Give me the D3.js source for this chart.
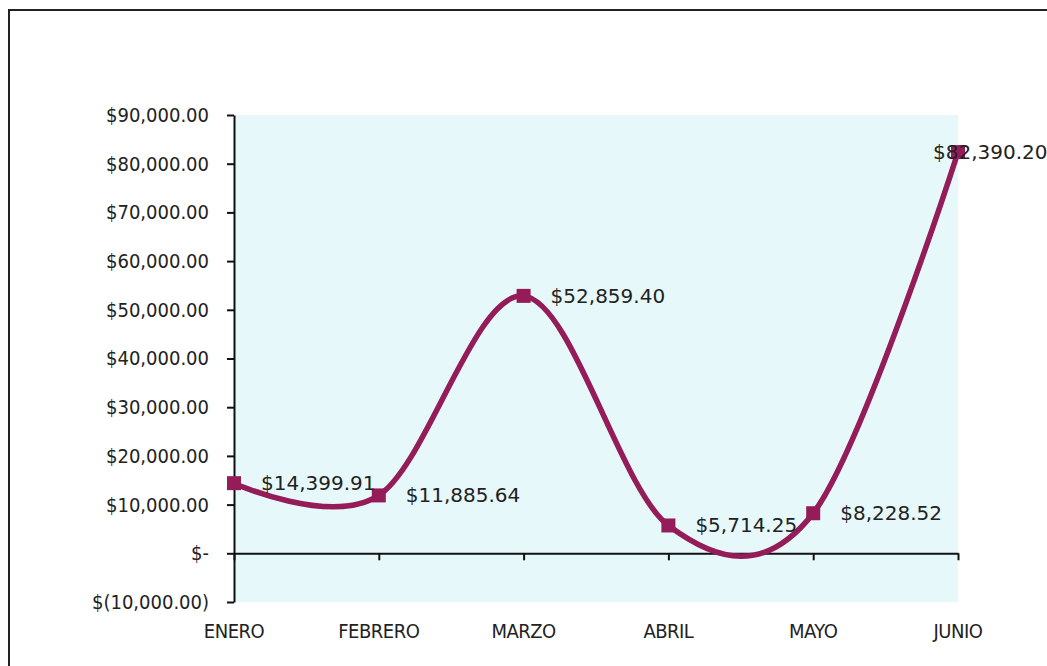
<!DOCTYPE html>
<html>
<head>
<meta charset="utf-8">
<script src="https://cdn.jsdelivr.net/npm/d3@7"></script>
<style>
  body { margin: 0; background: #fff; }
  .axis text { font-family: "DejaVu Sans Condensed", "DejaVu Sans", sans-serif; font-stretch: condensed; font-size: 20px; fill: #222; }
  .axis path, .axis line { stroke: #111; stroke-width: 2; }
  .lbl { font-family: "DejaVu Sans", Verdana, sans-serif; font-size: 20px; fill: #222; }
</style>
</head>
<body>
<script>
var months = ["ENERO", "FEBRERO", "MARZO", "ABRIL", "MAYO", "JUNIO"];
var ventas = [14399.91, 11885.64, 52859.40, 5714.25, 8228.52, 82390.20];
var yTicks = [-10000, 0, 10000, 20000, 30000, 40000, 50000, 60000, 70000, 80000, 90000];

var W = 1047, H = 666;
var plot = {left: 234, right: 958, top: 115, bottom: 602};
var lineColor = "#941c59";

var svg = d3.select("body").append("svg")
	.attr("width", W)
	.attr("height", H);

// outer chart frame (only top and left edges are inside the picture)
svg.append("rect")
	.attr("x", 9).attr("y", 10)
	.attr("width", W + 20).attr("height", H + 20)
	.style("fill", "#fff")
	.style("stroke", "#222")
	.style("stroke-width", 2);

var x = d3.scalePoint()
	.domain(months)
	.range([plot.left, plot.right]);

var y = d3.scaleLinear()
	.domain([-10000, 90000])
	.range([plot.bottom, plot.top]);

// plot area background
svg.append("rect")
	.attr("x", plot.left).attr("y", plot.top)
	.attr("width", plot.right - plot.left)
	.attr("height", plot.bottom - plot.top)
	.style("fill", "#e7f8fa");

var money = d3.format(",.2f");
function fmtAxis(v) {
	if (v === 0) return "$-";
	if (v < 0) return "$(" + money(-v) + ")";
	return "$" + money(v);
}

svg.append("g")
	.attr("class", "axis")
	.attr("transform", "translate(" + plot.left + ",0)")
	.call(d3.axisLeft(y).tickValues(yTicks).tickFormat(fmtAxis).tickSizeInner(7).tickSizeOuter(0).tickPadding(18));

svg.append("g")
	.attr("class", "axis")
	.attr("transform", "translate(0," + y(0) + ")")
	.call(d3.axisBottom(x).tickSizeInner(7).tickSizeOuter(0).tickFormat(""));

// category labels sit below the plot area, not under the zero line
svg.append("g")
	.attr("class", "axis")
	.selectAll("text")
	.data(months)
	.enter().append("text")
		.attr("x", function (d) { return x(d); })
		.attr("y", plot.bottom + 29)
		.attr("dy", "0.35em")
		.attr("text-anchor", "middle")
		.style("letter-spacing", "-0.5px")
		.text(function (d) { return d; });

var line = d3.line()
	.x(function (d, i) { return x(months[i]); })
	.y(function (d) { return y(d); })
	.curve(d3.curveCardinal.tension(0));

svg.append("path")
	.datum(ventas)
	.attr("d", line)
	.style("fill", "none")
	.style("stroke", lineColor)
	.style("stroke-width", 5.5)
	.style("stroke-linejoin", "round");

svg.selectAll(".marker")
	.data(ventas)
	.enter().append("rect")
		.attr("class", "marker")
		.attr("x", function (d, i) { return x(months[i]) - 7; })
		.attr("y", function (d) { return y(d) - 7; })
		.attr("width", 14)
		.attr("height", 14)
		.style("fill", lineColor);

svg.selectAll(".lbl")
	.data(ventas)
	.enter().append("text")
		.attr("class", "lbl")
		.attr("x", function (d, i) { return x(months[i]) + (i === ventas.length - 1 ? -25 : 27); })
		.attr("y", function (d) { return y(d); })
		.attr("dy", "0.35em")
		.text(function (d) { return "$" + money(d); });
</script>
</body>
</html>
